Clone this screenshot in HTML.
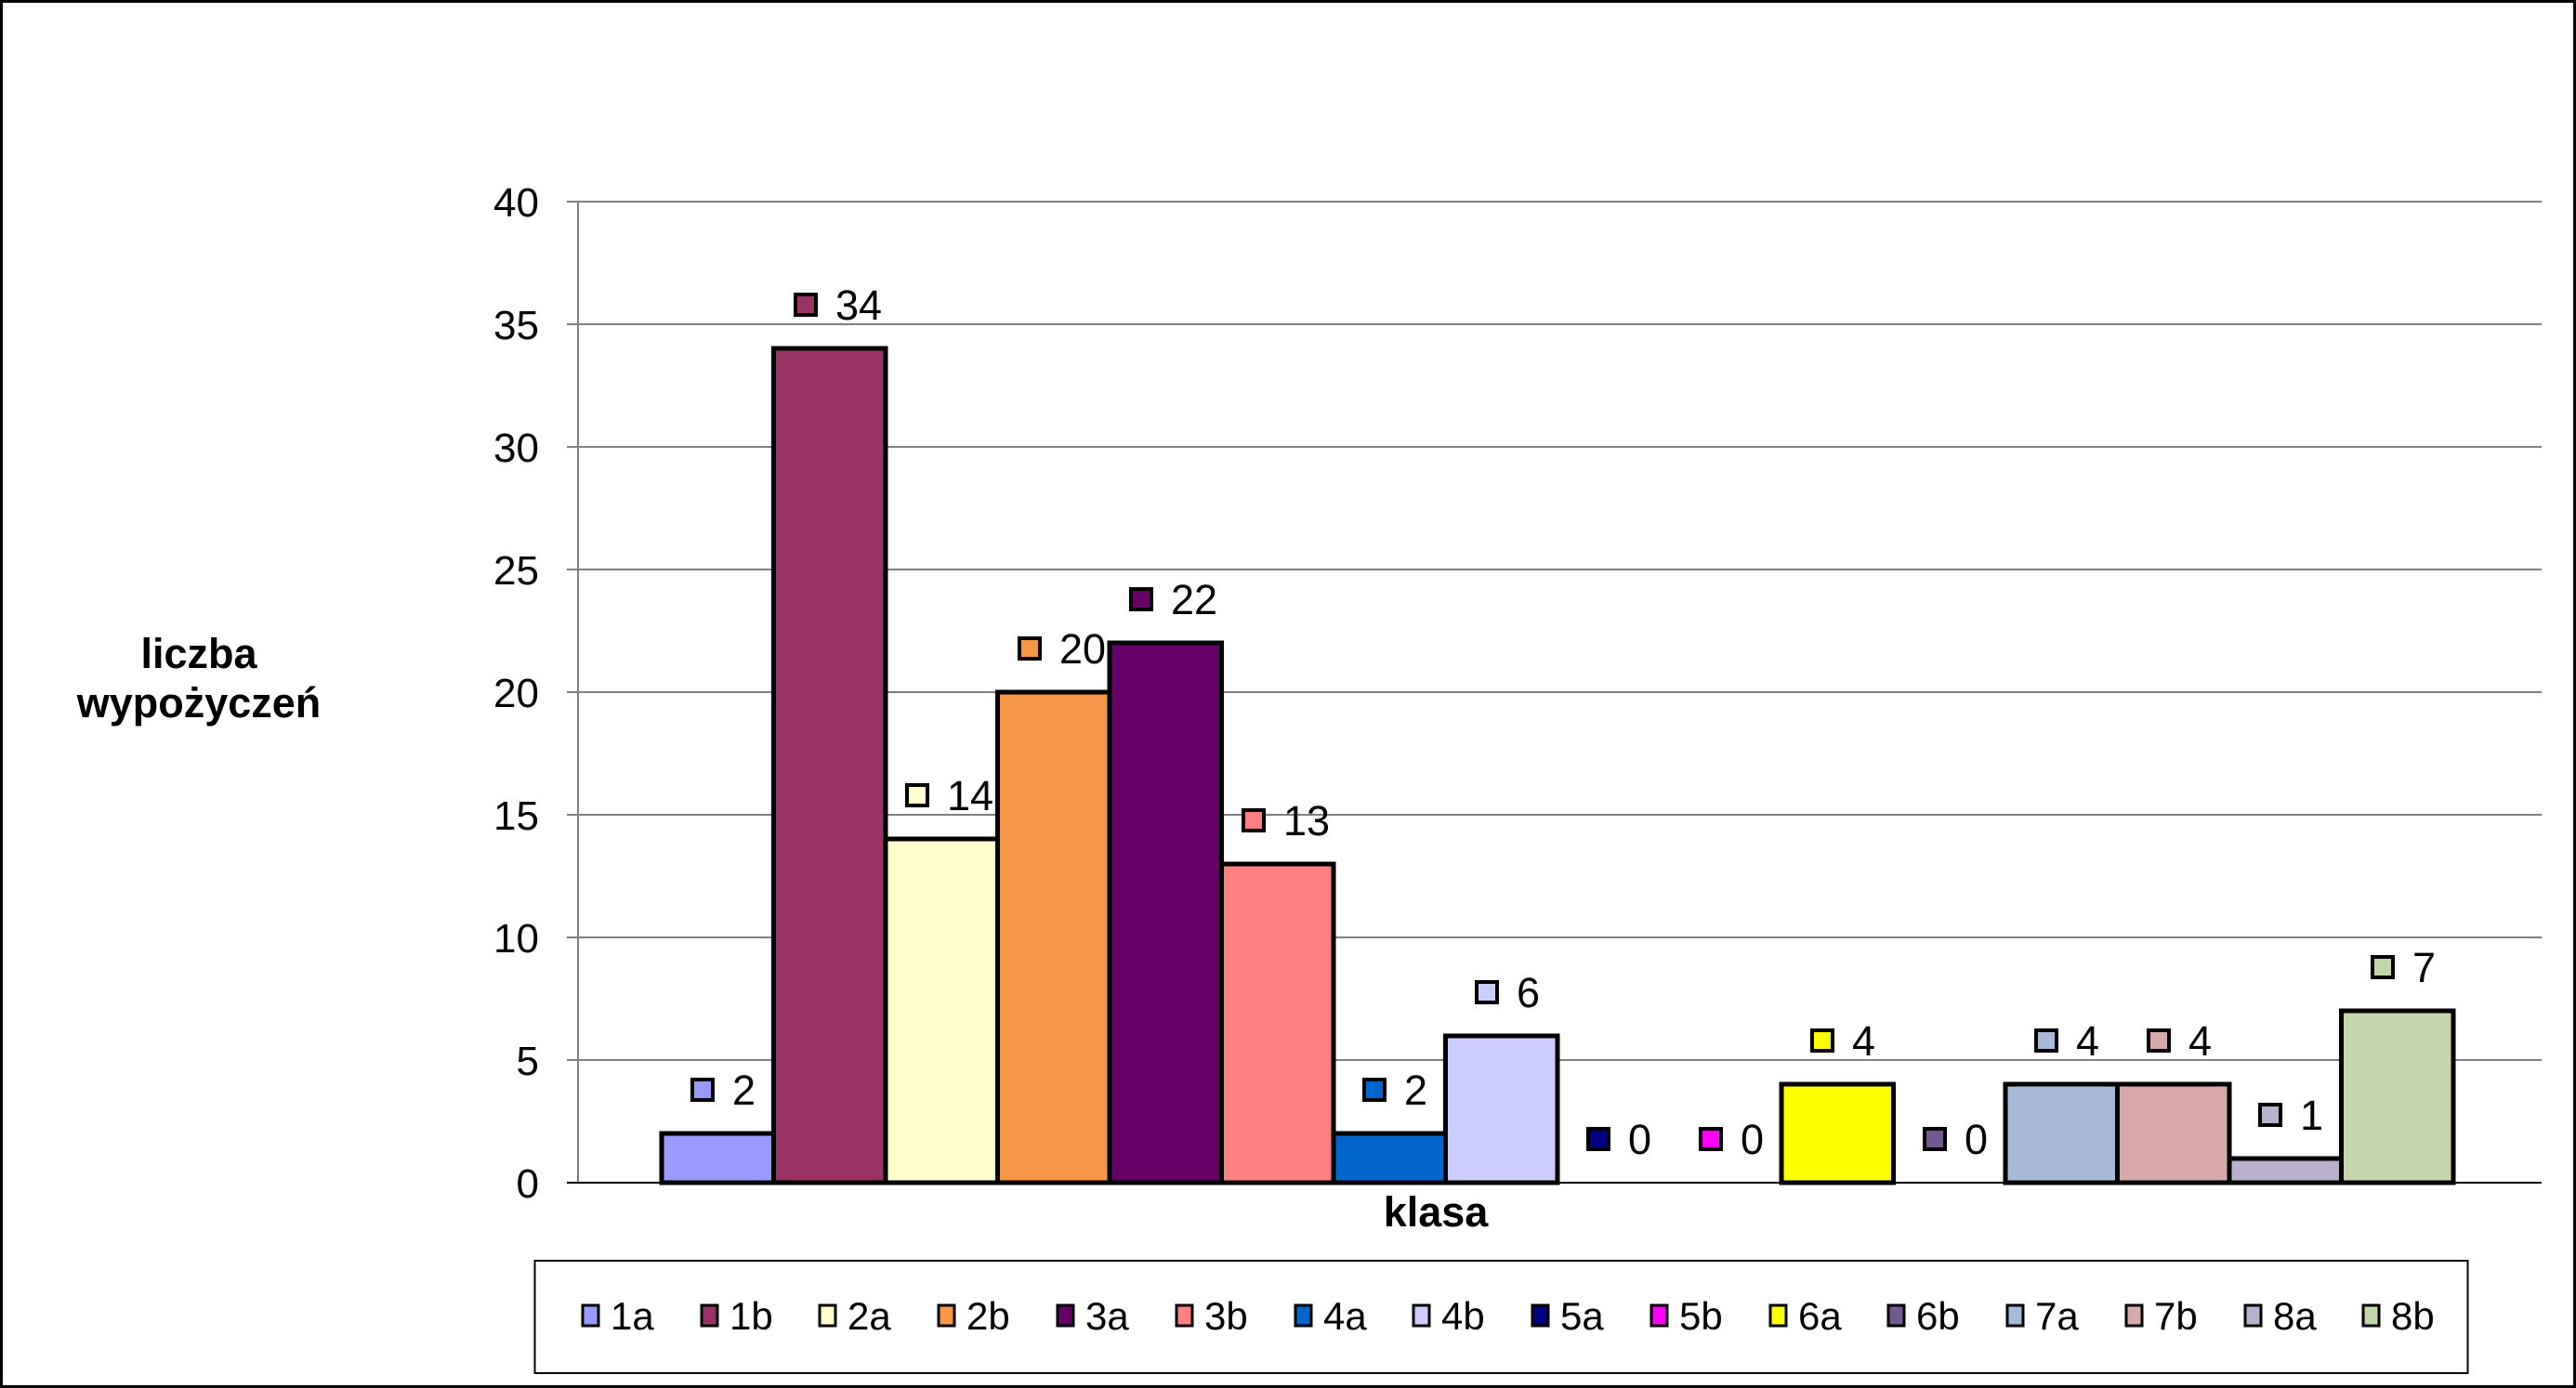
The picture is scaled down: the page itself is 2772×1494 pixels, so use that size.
<!DOCTYPE html>
<html><head><meta charset="utf-8"><style>
html,body{margin:0;padding:0;background:#fff}
svg{display:block}
text{font-family:"Liberation Sans",sans-serif}
</style></head><body>
<svg width="2772" height="1494" viewBox="0 0 2772 1494" xmlns="http://www.w3.org/2000/svg">
<rect x="1.5" y="1.5" width="2769" height="1491" fill="#fff" stroke="#000" stroke-width="3"/>
<g stroke="#808080" stroke-width="2">
<line x1="610" y1="217" x2="2735" y2="217"/>
<line x1="610" y1="349" x2="2735" y2="349"/>
<line x1="610" y1="481" x2="2735" y2="481"/>
<line x1="610" y1="613" x2="2735" y2="613"/>
<line x1="610" y1="745" x2="2735" y2="745"/>
<line x1="610" y1="877" x2="2735" y2="877"/>
<line x1="610" y1="1009" x2="2735" y2="1009"/>
<line x1="610" y1="1141" x2="2735" y2="1141"/>
</g>
<line x1="622" y1="217" x2="622" y2="1273" stroke="#808080" stroke-width="2"/>
<line x1="610" y1="1273" x2="2735" y2="1273" stroke="#000" stroke-width="2"/>
<g font-size="44" text-anchor="end" fill="#000">
<text x="580" y="233">40</text><text x="580" y="365">35</text><text x="580" y="497">30</text>
<text x="580" y="629">25</text><text x="580" y="761">20</text><text x="580" y="893">15</text>
<text x="580" y="1025">10</text><text x="580" y="1157">5</text><text x="580" y="1289">0</text>
</g>
<g stroke="#000" stroke-width="5">
<rect x="712" y="1220" width="120.5" height="53" fill="#9999FF"/>
<rect x="832.5" y="375" width="120.5" height="898" fill="#993366"/>
<rect x="953" y="903" width="120.5" height="370" fill="#FFFFCC"/>
<rect x="1073.5" y="745" width="120.5" height="528" fill="#F79646"/>
<rect x="1194" y="692" width="120.5" height="581" fill="#660066"/>
<rect x="1314.5" y="930" width="120.5" height="343" fill="#FF8080"/>
<rect x="1435" y="1220" width="120.5" height="53" fill="#0066CC"/>
<rect x="1555.5" y="1115" width="120.5" height="158" fill="#CCCCFF"/>
<rect x="1917" y="1167" width="120.5" height="106" fill="#FFFF00"/>
<rect x="2158" y="1167" width="120.5" height="106" fill="#A9B9D9"/>
<rect x="2278.5" y="1167" width="120.5" height="106" fill="#D9A9A9"/>
<rect x="2399" y="1247" width="120.5" height="26" fill="#B9B0CC"/>
<rect x="2519.5" y="1088" width="120.5" height="185" fill="#C4D6A9"/>
</g>
<g font-size="45" fill="#000" stroke-width="4">
<rect x="745" y="1162" width="22" height="22" fill="#9999FF" stroke="#000"/><text x="788" y="1189">2</text>
<rect x="856" y="317" width="22" height="22" fill="#993366" stroke="#000"/><text x="899" y="344">34</text>
<rect x="976" y="845" width="22" height="22" fill="#FFFFCC" stroke="#000"/><text x="1019" y="872">14</text>
<rect x="1097" y="687" width="22" height="22" fill="#F79646" stroke="#000"/><text x="1140" y="714">20</text>
<rect x="1217" y="634" width="22" height="22" fill="#660066" stroke="#000"/><text x="1260" y="661">22</text>
<rect x="1338" y="872" width="22" height="22" fill="#FF8080" stroke="#000"/><text x="1381" y="899">13</text>
<rect x="1468" y="1162" width="22" height="22" fill="#0066CC" stroke="#000"/><text x="1511" y="1189">2</text>
<rect x="1589" y="1057" width="22" height="22" fill="#CCCCFF" stroke="#000"/><text x="1632" y="1084">6</text>
<rect x="1709" y="1215" width="22" height="22" fill="#000080" stroke="#000"/><text x="1752" y="1242">0</text>
<rect x="1830" y="1215" width="22" height="22" fill="#FF00FF" stroke="#000"/><text x="1873" y="1242">0</text>
<rect x="1950" y="1109" width="22" height="22" fill="#FFFF00" stroke="#000"/><text x="1993" y="1136">4</text>
<rect x="2071" y="1215" width="22" height="22" fill="#705A8F" stroke="#000"/><text x="2114" y="1242">0</text>
<rect x="2191" y="1109" width="22" height="22" fill="#A9B9D9" stroke="#000"/><text x="2234" y="1136">4</text>
<rect x="2312" y="1109" width="22" height="22" fill="#D9A9A9" stroke="#000"/><text x="2355" y="1136">4</text>
<rect x="2432" y="1189" width="22" height="22" fill="#B9B0CC" stroke="#000"/><text x="2475" y="1216">1</text>
<rect x="2553" y="1030" width="22" height="22" fill="#C4D6A9" stroke="#000"/><text x="2596" y="1057">7</text>
</g>
<g font-size="45" font-weight="bold" text-anchor="middle" fill="#000">
<text x="214" y="719">liczba</text>
<text x="214" y="772">wypożyczeń</text>
<text x="1545" y="1320">klasa</text>
</g>
<rect x="575.5" y="1357" width="2080" height="121" fill="#fff" stroke="#000" stroke-width="2"/>
<g font-size="42" fill="#000" stroke="#000" stroke-width="3">
<rect x="627" y="1405" width="17" height="22" fill="#9999FF"/><text x="657" y="1431" stroke="none">1a</text>
<rect x="755" y="1405" width="17" height="22" fill="#993366"/><text x="785" y="1431" stroke="none">1b</text>
<rect x="882" y="1405" width="17" height="22" fill="#FFFFCC"/><text x="912" y="1431" stroke="none">2a</text>
<rect x="1010" y="1405" width="17" height="22" fill="#F79646"/><text x="1040" y="1431" stroke="none">2b</text>
<rect x="1138" y="1405" width="17" height="22" fill="#660066"/><text x="1168" y="1431" stroke="none">3a</text>
<rect x="1266" y="1405" width="17" height="22" fill="#FF8080"/><text x="1296" y="1431" stroke="none">3b</text>
<rect x="1394" y="1405" width="17" height="22" fill="#0066CC"/><text x="1424" y="1431" stroke="none">4a</text>
<rect x="1521" y="1405" width="17" height="22" fill="#CCCCFF"/><text x="1551" y="1431" stroke="none">4b</text>
<rect x="1649" y="1405" width="17" height="22" fill="#000080"/><text x="1679" y="1431" stroke="none">5a</text>
<rect x="1777" y="1405" width="17" height="22" fill="#FF00FF"/><text x="1807" y="1431" stroke="none">5b</text>
<rect x="1905" y="1405" width="17" height="22" fill="#FFFF00"/><text x="1935" y="1431" stroke="none">6a</text>
<rect x="2032" y="1405" width="17" height="22" fill="#705A8F"/><text x="2062" y="1431" stroke="none">6b</text>
<rect x="2160" y="1405" width="17" height="22" fill="#A9B9D9"/><text x="2190" y="1431" stroke="none">7a</text>
<rect x="2288" y="1405" width="17" height="22" fill="#D9A9A9"/><text x="2318" y="1431" stroke="none">7b</text>
<rect x="2416" y="1405" width="17" height="22" fill="#B9B0CC"/><text x="2446" y="1431" stroke="none">8a</text>
<rect x="2543" y="1405" width="17" height="22" fill="#C4D6A9"/><text x="2573" y="1431" stroke="none">8b</text>
</g>
</svg>
</body></html>
